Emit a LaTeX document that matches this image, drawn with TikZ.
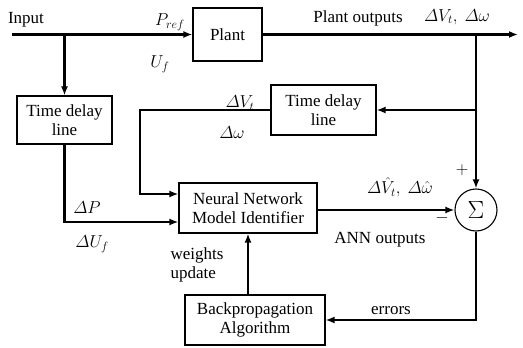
\documentclass[tikz,border=0pt]{standalone}
\usepackage{amsmath}
\usepackage{fontspec}
\setmainfont{Liberation Serif}
\usetikzlibrary{arrows.meta}

\begin{document}
\begin{tikzpicture}[x=1pt,y=-1pt,font=\fontsize{17}{19}\selectfont,
  blockbox/.style={draw,line width=1.1pt,align=center,inner sep=0pt},
  sigline/.style={line width=2.4pt},
  sigarrow/.style={sigline,-{Latex[length=9pt,width=7pt]}}]
\useasboundingbox (0,0) rectangle (523,348);
% blocks
\node[blockbox,minimum width=69pt,minimum height=53pt] (plant) at (227.5,34.5) {Plant};
\node[blockbox,minimum width=95pt,minimum height=48pt] (tdlin) at (64.5,120) {Time delay\\line};
\node[blockbox,minimum width=105pt,minimum height=50pt] (tdlout) at (323.5,110) {Time delay\\line};
\node[blockbox,minimum width=138pt,minimum height=50pt] (nnmi) at (248,208) {Neural Network\\Model Identifier};
\node[blockbox,minimum width=140pt,minimum height=50pt] (bpa) at (255,320) {Backpropagation\\Algorithm};
\node[draw,circle,line width=1.1pt,minimum size=42pt,inner sep=0pt,font=\fontsize{23}{25}\selectfont] (sum) at (476,210) {$\Sigma$};
% branch points
\coordinate (in) at (12,34.5);
\coordinate (tap) at (64.5,34.5);
\coordinate (out) at (518,34.5);
\coordinate (otap) at (476,34.5);
\coordinate (fbk) at (140,194);
\coordinate (dly) at (64.5,222);
% signals
\draw[sigarrow] (in) -- (plant.west);
\draw[sigarrow] (tap) -- (tdlin.north);
\draw[sigarrow] (plant.east) -- (out);
\draw[sigarrow] (otap) -- (sum.north);
\draw[sigarrow] (otap |- tdlout.east) -- (tdlout.east);
\draw[sigarrow] (tdlout.west) -| (fbk) -- (fbk -| nnmi.west);
\draw[sigarrow] (tdlin.south) -- (dly) -- (dly -| nnmi.west);
\draw[sigarrow] (nnmi.east |- sum.west) -- (sum.west);
\draw[sigarrow] (sum.south) |- (bpa.east);
\draw[sigarrow] (bpa.north -| nnmi.south) -- (nnmi.south);
% labels
\node (inlbl) at (26,20) {Input};
\node (preflbl) at (170,22) {$P_{ref}$};
\node (uflbl) at (160,64) {$U_f$};
\node (outlbl) at (358,18) {Plant outputs};
\node (outvar) at (457,17) {$\varDelta V_t,\ \varDelta\omega$};
\node (fbv) at (240,103) {$\varDelta V_t$};
\node (fbw) at (232,133) {$\varDelta\omega$};
\node (dplbl) at (87,208) {$\varDelta P$};
\node (dulbl) at (92,244) {$\varDelta U_f$};
\node[align=left] (wulbl) at (197,265) {weights\\update};
\node (annvar) at (400,187) {$\varDelta\hat{V}_t,\ \varDelta\hat{\omega}$};
\node (annlbl) at (380,240) {ANN outputs};
\node (minus) at (442,218) {$-$};
\node (plus) at (462,170) {$+$};
\node (errlbl) at (391,311) {errors};
\end{tikzpicture}
\end{document}
